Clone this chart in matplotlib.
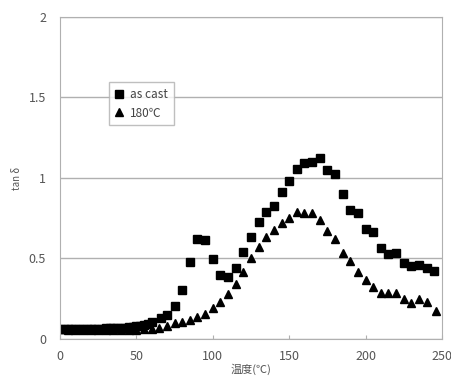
import matplotlib
matplotlib.use("Agg")
import matplotlib.pyplot as plt

plt.rcParams['font.family'] = ['Noto Sans CJK JP', 'DejaVu Sans']

# as cast (squares)
ascast_x = [0, 2.5, 5, 7.5, 10, 12.5, 15, 17.5, 20, 22.5, 25, 27.5, 30, 32.5, 35, 37.5,
            40, 42.5, 45, 47.5, 50, 52.5, 55, 57.5, 60, 66, 70, 75, 80, 85, 90, 95,
            100, 105, 110, 115, 120, 125, 130, 135, 140, 145, 150, 155, 160, 165,
            170, 175, 180, 185, 190, 195, 200, 205, 210, 215, 220, 225, 230, 235,
            240, 245]
ascast_y = [0.065, 0.062, 0.060, 0.060, 0.062, 0.062, 0.060, 0.060, 0.062, 0.062, 0.064, 0.064,
            0.066, 0.066, 0.068, 0.068, 0.070, 0.070, 0.072, 0.074, 0.078, 0.080, 0.085, 0.090,
            0.105, 0.128, 0.149, 0.205, 0.304, 0.48, 0.62, 0.617,
            0.495, 0.40, 0.387, 0.443, 0.538, 0.636, 0.729, 0.789, 0.828, 0.911, 0.981,
            1.054, 1.093, 1.097, 1.126, 1.05, 1.023, 0.899, 0.80, 0.785, 0.681, 0.667,
            0.567, 0.526, 0.532, 0.47, 0.455, 0.46, 0.439, 0.422]

# 180 C (triangles)
t180_x = [0, 5, 10, 15, 20, 25, 30, 35, 40, 45, 50, 55, 60, 65, 70, 75, 80, 85, 90, 95,
          100, 105, 110, 115, 120, 125, 130, 135, 140, 145, 150, 155, 160, 165,
          170, 175, 180, 185, 190, 195, 200, 205, 210, 215, 220, 225, 230, 235, 240, 246]
t180_y = [0.060, 0.058, 0.056, 0.055, 0.055, 0.056, 0.056, 0.057, 0.058, 0.058, 0.058, 0.060,
          0.062, 0.066, 0.080, 0.100, 0.108, 0.118, 0.139, 0.155,
          0.19, 0.232, 0.277, 0.34, 0.418, 0.50, 0.573, 0.636, 0.677, 0.723, 0.749,
          0.787, 0.78, 0.78, 0.739, 0.671, 0.621, 0.532, 0.484, 0.418, 0.366, 0.325,
          0.288, 0.284, 0.284, 0.246, 0.222, 0.246, 0.232, 0.174]

xticks = [0, 50, 100, 150, 200, 250]
yticks = [0, 0.5, 1, 1.5, 2]
ytick_labels = ['0', '0.5', '1', '1.5', '2']

fig = plt.figure(figsize=(4.52, 3.78), dpi=100)
ax = fig.add_axes([0.1327, 0.1032, 0.845, 0.852])

ax.plot(ascast_x, ascast_y, linestyle='none', marker='s', markersize=5.2,
        color='black', label='as cast')
ax.plot(t180_x, t180_y, linestyle='none', marker='^', markersize=5.2,
        color='black', label='180℃')

ax.set_xlim(0, 250)
ax.set_ylim(0, 2)
ax.set_xticks(xticks)
ax.set_yticks(yticks)
ax.set_yticklabels(ytick_labels)
ax.yaxis.grid(True, color='#b0b0b0', linewidth=1)
ax.set_axisbelow(True)
for s in ax.spines.values():
    s.set_color('#b0b0b0')
ax.tick_params(axis='x', direction='in', length=3, color='#b0b0b0',
               labelsize=9, labelcolor='#555555', pad=8)
ax.tick_params(axis='y', length=0, labelsize=9, labelcolor='#555555', pad=10)

ax.set_xlabel('温度(℃)', fontsize=8, color='#555555', labelpad=0)
ax.set_ylabel('tan δ', fontsize=7, color='#555555', labelpad=5)

leg = ax.legend(loc='upper left', bbox_to_anchor=(0.128, 0.797), fontsize=8.5,
                frameon=True, fancybox=False, handlelength=0.8, handletextpad=0.5,
                borderpad=0.5, labelspacing=0.45, borderaxespad=0)
leg.get_frame().set_edgecolor('#b0b0b0')
leg.get_frame().set_linewidth(1)
for t in leg.get_texts():
    t.set_color('#444444')

fig.savefig('out.png', dpi=100)
